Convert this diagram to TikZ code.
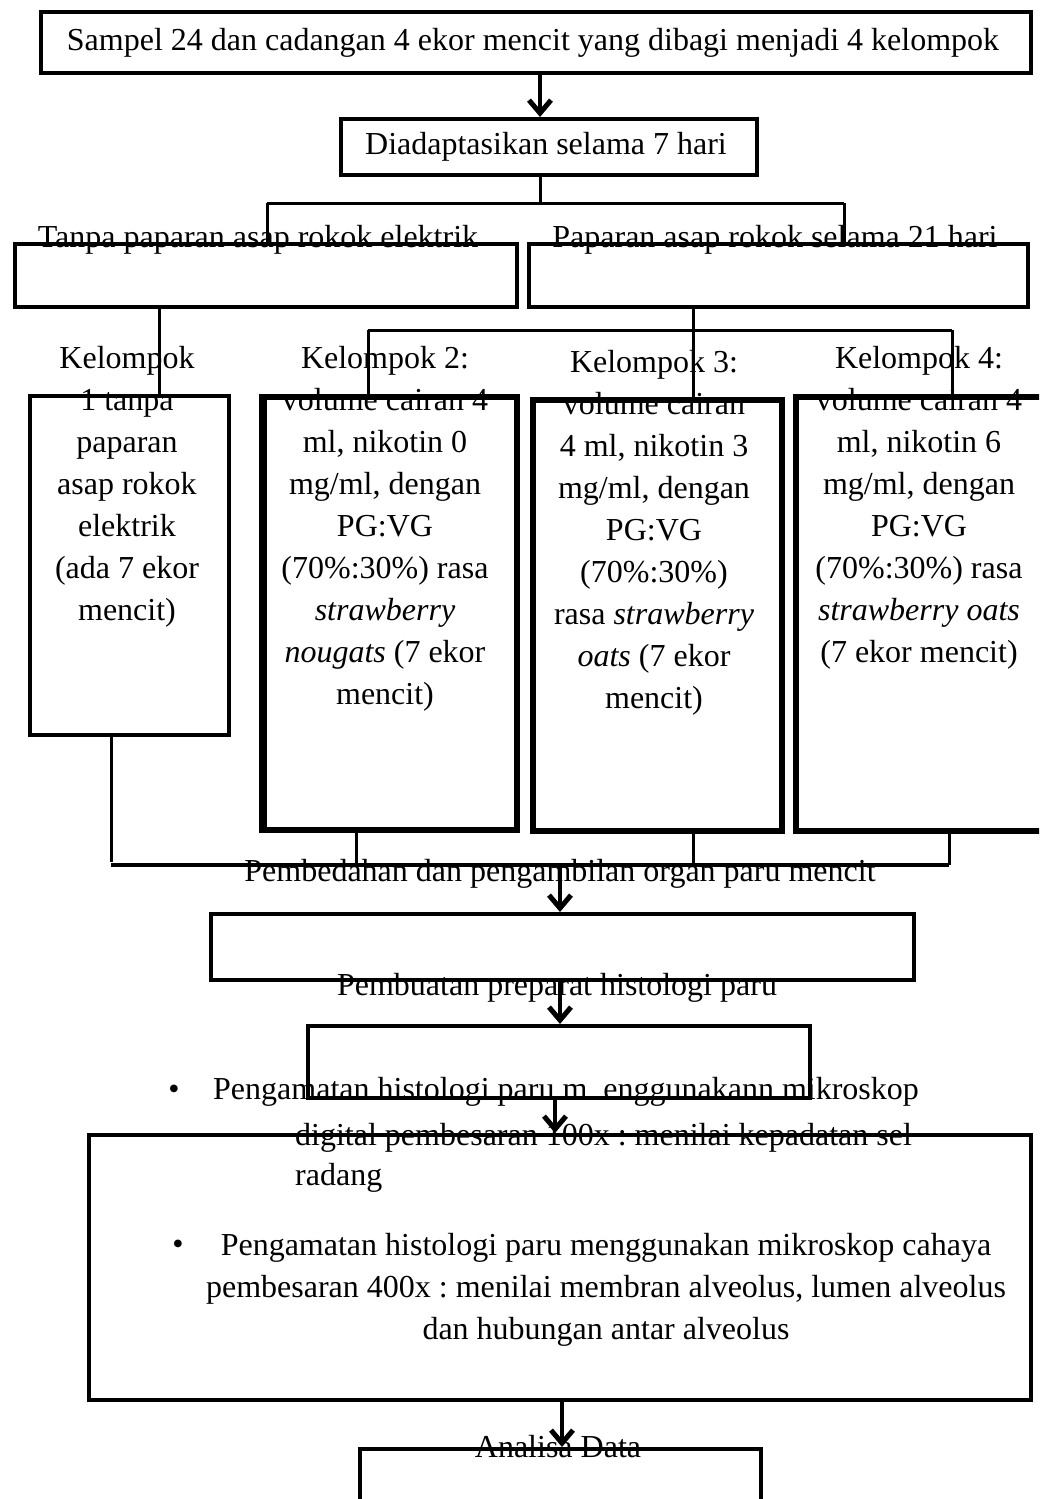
\documentclass[tikz,border=0pt]{standalone}
\usepackage{fontspec}
\setmainfont{Liberation Serif}
\usetikzlibrary{arrows.meta}
\frenchspacing
\begin{document}
\begin{tikzpicture}[x=1pt,y=-1pt,
  box/.style={draw,line width=4pt,anchor=north west,inner sep=0pt},
  kbox/.style={draw,line width=6pt,anchor=north west,inner sep=0pt},
  conn/.style={line width=3pt},
  arr/.style={line width=3.5pt,-{Straight Barb[length=13pt,width=22pt,line width=5pt]}},
  txt/.style={font=\fontsize{32}{42}\selectfont\frenchspacing,inner sep=0pt,align=center},
  ltxt/.style={font=\fontsize{32}{42}\selectfont\frenchspacing,inner sep=0pt,anchor=west},
]
\useasboundingbox (0,0) rectangle (1039,1499);
\clip (0,0) rectangle (1039,1499);
% boxes
\node[box,minimum width=990pt,minimum height=61pt] (b1) at (39,10) {};
\node[box,minimum width=416pt,minimum height=56pt] (b2) at (339,117) {};
\node[box,minimum width=502pt,minimum height=63pt] (b3a) at (13,242) {};
\node[box,minimum width=499pt,minimum height=63pt] (b3b) at (527,242) {};
\node[box,minimum width=199pt,minimum height=339pt] (k1) at (28,394) {};
\node[kbox,minimum width=255pt,minimum height=433pt] (k2) at (259,394) {};
\node[kbox,minimum width=249pt,minimum height=431pt] (k3) at (530,397) {};
\node[kbox,minimum width=252pt,minimum height=434pt] (k4) at (793,394) {};
\node[box,minimum width=703pt,minimum height=66pt] (bp) at (209,912) {};
\node[box,minimum width=502pt,minimum height=72pt] (bq) at (306,1024) {};
\node[box,minimum width=942pt,minimum height=265pt] (br) at (87,1133) {};
\node[box,minimum width=401pt,minimum height=80pt] (bs) at (358,1447) {};
\draw[conn] ([xshift=6pt]k2.north west) -- ([xshift=6pt]k2.south west);
% texts
\node[txt] (t1) at (533,43) {Sampel 24 dan cadangan 4 ekor mencit yang dibagi menjadi 4 kelompok};
\node[txt] (t2) at (546,147) {Diadaptasikan selama 7 hari};
\node[txt] (t3a) at (258,240) {Tanpa paparan asap rokok elektrik};
\node[txt] (t3b) at (775,240) {Paparan asap rokok selama 21 hari};
\node[txt] (tk1) at (127,487) {Kelompok\\1 tanpa\\paparan\\asap rokok\\elektrik\\(ada 7 ekor\\mencit)};
\node[txt] (tk2) at (385,529) {Kelompok 2:\\volume cairan 4\\ml, nikotin 0\\mg/ml, dengan\\PG:VG\\(70\%:30\%) rasa\\\textit{strawberry}\\\textit{nougats} (7 ekor\\mencit)};
\node[txt] (tk3) at (654,533) {Kelompok 3:\\volume cairan\\4 ml, nikotin 3\\mg/ml, dengan\\PG:VG\\(70\%:30\%)\\rasa \textit{strawberry}\\\textit{oats} (7 ekor\\mencit)};
\node[txt] (tk4) at (919,508) {Kelompok 4:\\volume cairan 4\\ml, nikotin 6\\mg/ml, dengan\\PG:VG\\(70\%:30\%) rasa\\\textit{strawberry oats}\\(7 ekor mencit)};
\node[txt] (tp) at (560,874) {Pembedahan dan pengambilan organ paru mencit};
\node[txt] (tq) at (557,988) {Pembuatan preparat histologi paru};
\node[txt] (bul1) at (174,1092) {•};
\node[ltxt] (tr1) at (213,1092) {Pengamatan histologi paru m\ \ enggunakann mikroskop};
\node[ltxt] (tr2) at (295,1138) {digital pembesaran 100x : menilai kepadatan sel};
\node[ltxt] (tr3) at (295,1178) {radang};
\node[txt] (bul2) at (178,1247) {•};
\node[txt] (tr4) at (606,1290) {Pengamatan histologi paru menggunakan mikroskop cahaya\\pembesaran 400x : menilai membran alveolus, lumen alveolus\\dan hubungan antar alveolus};
\node[txt] (ts) at (558,1447) {Analisa Data};
% junction coordinates
\coordinate (j1) at (540,203);
\coordinate (j1l) at (267,203);
\coordinate (j1r) at (844,203);
\coordinate (j2) at (693,330);
\coordinate (j2l) at (368,330);
\coordinate (j2r) at (952,330);
\coordinate (j3l) at (111,865);
\coordinate (j3r) at (949,865);
\coordinate (j3) at (560,865);
% connectors
\draw[arr] (b1.south -| j1) -- (b2.north -| j1);
\draw[conn] (b2.south -| j1) -- (j1);
\draw[conn] (j1l) -- (j1r);
\draw[conn] (j1l) -- (b3a.north -| j1l);
\draw[conn] (j1r) -- (b3b.north -| j1r);
\draw[conn] (b3a.south -| 159,0) -- (k1.north -| 159,0);
\draw[conn] (b3b.south -| j2) -- (k3.north -| j2);
\draw[conn] (j2l) -- (j2r);
\draw[conn] (j2l) -- (k2.north -| j2l);
\draw[conn] (j2r) -- (k4.north -| j2r);
\draw[conn] (k1.south -| j3l) -- ([yshift=3pt]j3l);
\draw[conn] (k2.south -| 356,0) -- (356,865);
\draw[conn] (k3.south -| j2) -- (j2 |- j3);
\draw[conn] (k4.south -| j3r) -- (j3r);
\draw[line width=4pt] (j3l) -- (j3r);
\draw[arr] (j3) -- (bp.north -| j3);
\draw[arr] (bp.south -| j3) -- (bq.north -| j3);
\draw[arr] (bq.south -| 555,0) -- (br.north -| 555,0);
\draw[arr] (br.south -| 562,0) -- (bs.north -| 562,0);
\end{tikzpicture}
\end{document}
